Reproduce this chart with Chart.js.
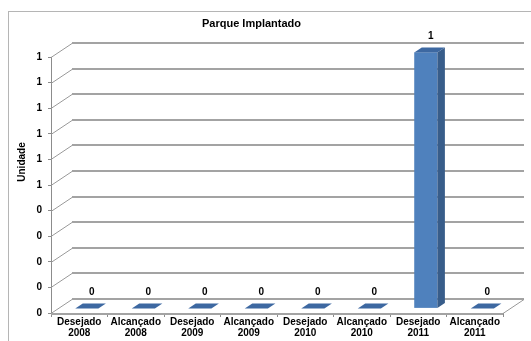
<!DOCTYPE html>
<html>
<head>
<meta charset="utf-8">
<script src="https://cdn.jsdelivr.net/npm/chart.js@4"></script>
<style>
  html, body { margin: 0; padding: 0; background: #fff; }
  #wrap { width: 531px; height: 341px; position: relative; }
</style>
</head>
<body>
<div id="wrap"><canvas id="myChart"></canvas></div>
<script>
const categories = [
  ['Desejado', '2008'], ['Alcançado', '2008'],
  ['Desejado', '2009'], ['Alcançado', '2009'],
  ['Desejado', '2010'], ['Alcançado', '2010'],
  ['Desejado', '2011'], ['Alcançado', '2011']
];
const values = [0, 0, 0, 0, 0, 0, 1, 0];
const chartTitle = 'Parque Implantado';
const axisTitle = 'Unidade';

const FONT = '"Liberation Sans", Arial, sans-serif';
// perspective offsets of the back wall
const DX = 21, DY = -14;

const wall3d = {
  id: 'wall3d',
  beforeDraw(chart) {
    const c = chart.ctx;
    c.save();
    c.strokeStyle = '#b5b5b5';
    c.lineWidth = 1;
    c.strokeRect(8.5, 11.5, 560, 360);
    // y axis title
    c.translate(22, 162);
    c.rotate(-Math.PI / 2);
    c.fillStyle = '#000';
    c.font = 'bold 10px ' + FONT;
    c.textAlign = 'center';
    c.textBaseline = 'middle';
    c.fillText(axisTitle, 0, 0);
    c.restore();
  },
  beforeDatasetsDraw(chart) {
    const c = chart.ctx;
    const y = chart.scales.y;
    const a = chart.chartArea;
    c.save();
    y.ticks.forEach(t => {
      const py = Math.round(y.getPixelForValue(t.value));
      // back wall line
      c.strokeStyle = '#a3a3a3';
      c.lineWidth = 2;
      c.beginPath();
      c.moveTo(a.left + DX, py + DY);
      c.lineTo(a.right + DX, py + DY);
      c.stroke();
      // side wall slant
      c.strokeStyle = '#9a9a9a';
      c.lineWidth = 1;
      c.beginPath();
      c.moveTo(a.left, py + 0.5);
      c.lineTo(a.left + DX, py + DY + 0.5);
      c.stroke();
    });
    // floor right edge
    c.beginPath();
    c.moveTo(a.right, a.bottom + 0.5);
    c.lineTo(a.right + DX, a.bottom + DY + 0.5);
    c.stroke();
    // floor front edge
    c.strokeStyle = '#a3a3a3';
    c.lineWidth = 2;
    c.beginPath();
    c.moveTo(a.left, a.bottom + 1);
    c.lineTo(a.right, a.bottom + 1);
    c.stroke();

    // bars
    const meta = chart.getDatasetMeta(0);
    const catW = (a.right - a.left) / categories.length;
    const w = catW * 0.41;
    const fx = DX * 0.36, fy = DY * 0.33;   // front face offset
    const bx = 7.5, by = -5;               // bar depth
    meta.data.forEach((el, i) => {
      const x0 = el.x + fx - w / 2, x1 = x0 + w;
      const top = el.y + fy, base = el.base + fy;
      // front
      c.fillStyle = '#4f81bd';
      c.fillRect(x0, top, w, base - top);
      // side
      c.fillStyle = '#385d8a';
      c.beginPath();
      c.moveTo(x1, top); c.lineTo(x1 + bx, top + by);
      c.lineTo(x1 + bx, base + by); c.lineTo(x1, base);
      c.closePath(); c.fill();
      // top
      c.fillStyle = '#3d68a1';
      c.beginPath();
      c.moveTo(x0, top); c.lineTo(x1, top);
      c.lineTo(x1 + bx, top + by); c.lineTo(x0 + bx, top + by);
      c.closePath(); c.fill();
      // value label
      c.fillStyle = '#000';
      c.font = 'bold 10px ' + FONT;
      c.textAlign = 'center';
      c.textBaseline = 'middle';
      c.fillText(String(values[i]), el.x + 12.5, el.y - 21);
    });
    c.restore();
    return false;
  }
};

new Chart(document.querySelector('#myChart'), {
  type: 'bar',
  data: {
    labels: categories,
    datasets: [{
      label: chartTitle,
      data: values,
      backgroundColor: 'rgba(0,0,0,0)'
    }]
  },
  options: {
    responsive: true,
    maintainAspectRatio: false,
    animation: false,
    layout: { padding: { left: 0, right: 28, top: 0, bottom: 0 } },
    plugins: {
      legend: { display: false },
      tooltip: { enabled: false },
      title: {
        display: true,
        text: chartTitle,
        color: '#000',
        font: { family: FONT, size: 11, weight: 'bold' },
        padding: { top: 17, bottom: 26.8 }
      }
    },
    scales: {
      x: {
        afterFit: s => { s.height = 28; },
        grid: { offset: true, drawOnChartArea: false, tickLength: 4, color: '#8c8c8c' },
        border: { display: false },
        ticks: {
          color: '#000',
          padding: 0,
          maxRotation: 0,
          autoSkip: false,
          font: { family: FONT, size: 10, weight: 'bold', lineHeight: 1.05 }
        }
      },
      y: {
        min: 0,
        max: 1,
        afterFit: s => { s.width = 51; },
        grid: { drawOnChartArea: false, tickLength: 3, color: '#8c8c8c' },
        border: { color: '#8c8c8c' },
        ticks: {
          stepSize: 0.1,
          color: '#000',
          padding: 6,
          font: { family: FONT, size: 10, weight: 'bold' },
          callback: v => Math.round(v)
        }
      }
    }
  },
  plugins: [wall3d]
});
</script>
</body>
</html>
